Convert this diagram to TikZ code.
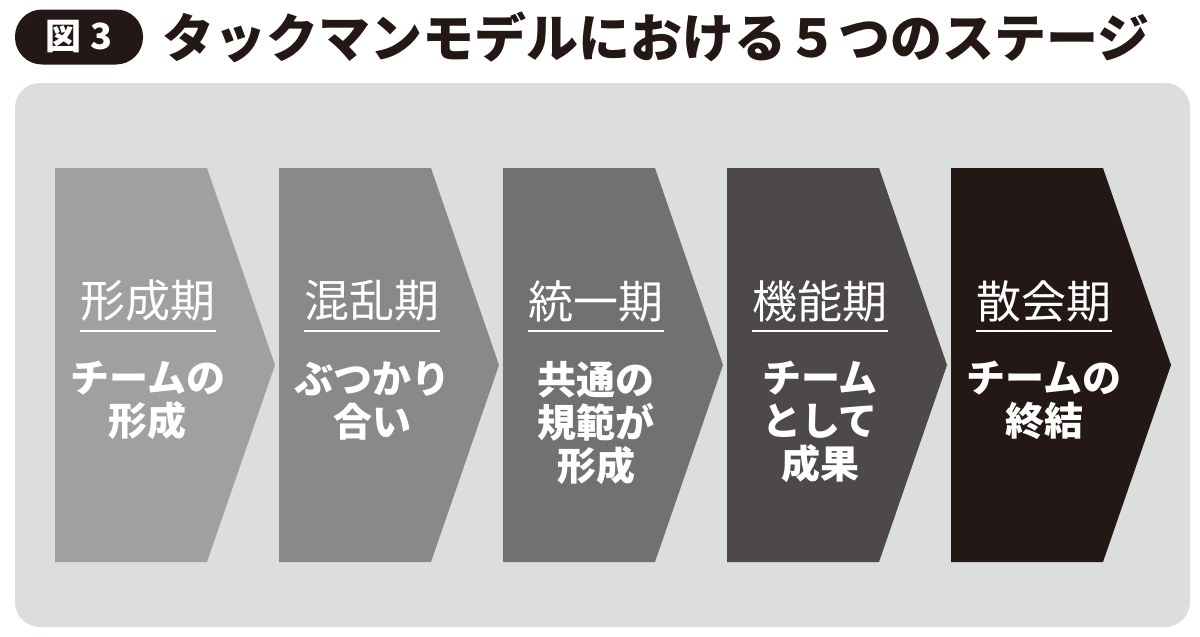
\documentclass[tikz,border=0pt]{standalone}
\usepackage{fontspec}
\setmainfont{Noto Sans CJK JP}
\definecolor{bgray}{HTML}{DCDDDD}
\definecolor{ink}{HTML}{231815}
\definecolor{stageA}{HTML}{9FA0A0}
\definecolor{stageB}{HTML}{898989}
\definecolor{stageC}{HTML}{727171}
\definecolor{stageD}{HTML}{4C4948}
\definecolor{stageE}{HTML}{231815}
\tikzset{
chevron/.pic={
  \fill (0,0) -- (152,0) -- (220,197) -- (152,394) -- (0,394) -- cycle;
  },
stagehead/.style={text=white, font=\fontsize{45}{47}\selectfont, inner sep=0pt, anchor=north},
stagebody/.style={text=white, font=\bfseries\fontsize{39}{43}\selectfont, align=center, inner sep=0pt, anchor=north}
}

\begin{document}
\begin{tikzpicture}[x=1pt, y=-1pt]
\useasboundingbox (0,0) rectangle (1200,637);
\fill[white] (0,0) rectangle (1200,637);

\node[fill=ink, text=white, rounded corners=27, minimum width=128, minimum height=55, inner sep=0pt,
  font=\bfseries\fontsize{36}{38}\selectfont] (badge) at (79,37) {図 3};
\node[anchor=west, text=ink, inner sep=0pt, font=\bfseries\fontsize{52}{54}\selectfont] (title) at (162,37)
  {タックマンモデルにおける５つのステージ};

\fill[bgray, rounded corners=25] (15,83) rectangle (1190,627);

\foreach \i/\col/\head/\body in {0/stageA/形成期/{チームの\\形成}, 1/stageB/混乱期/{ぶつかり\\合い},
  2/stageC/統一期/{共通の\\規範が\\形成}, 3/stageD/機能期/{チーム\\として\\成果}, 4/stageE/散会期/{チームの\\終結}} {
  \pic[fill=\col] at (55+224*\i,168) {chevron};
  \node[stagehead] (h\i) at (148+224*\i,280) {\head};
  \draw[white, line width=1.8] ([yshift=-9]h\i.south west) -- ([yshift=-9]h\i.south east);
  \node[stagebody] (b\i) at (148+224*\i,361) {\body};
}
\end{tikzpicture}
\end{document}
